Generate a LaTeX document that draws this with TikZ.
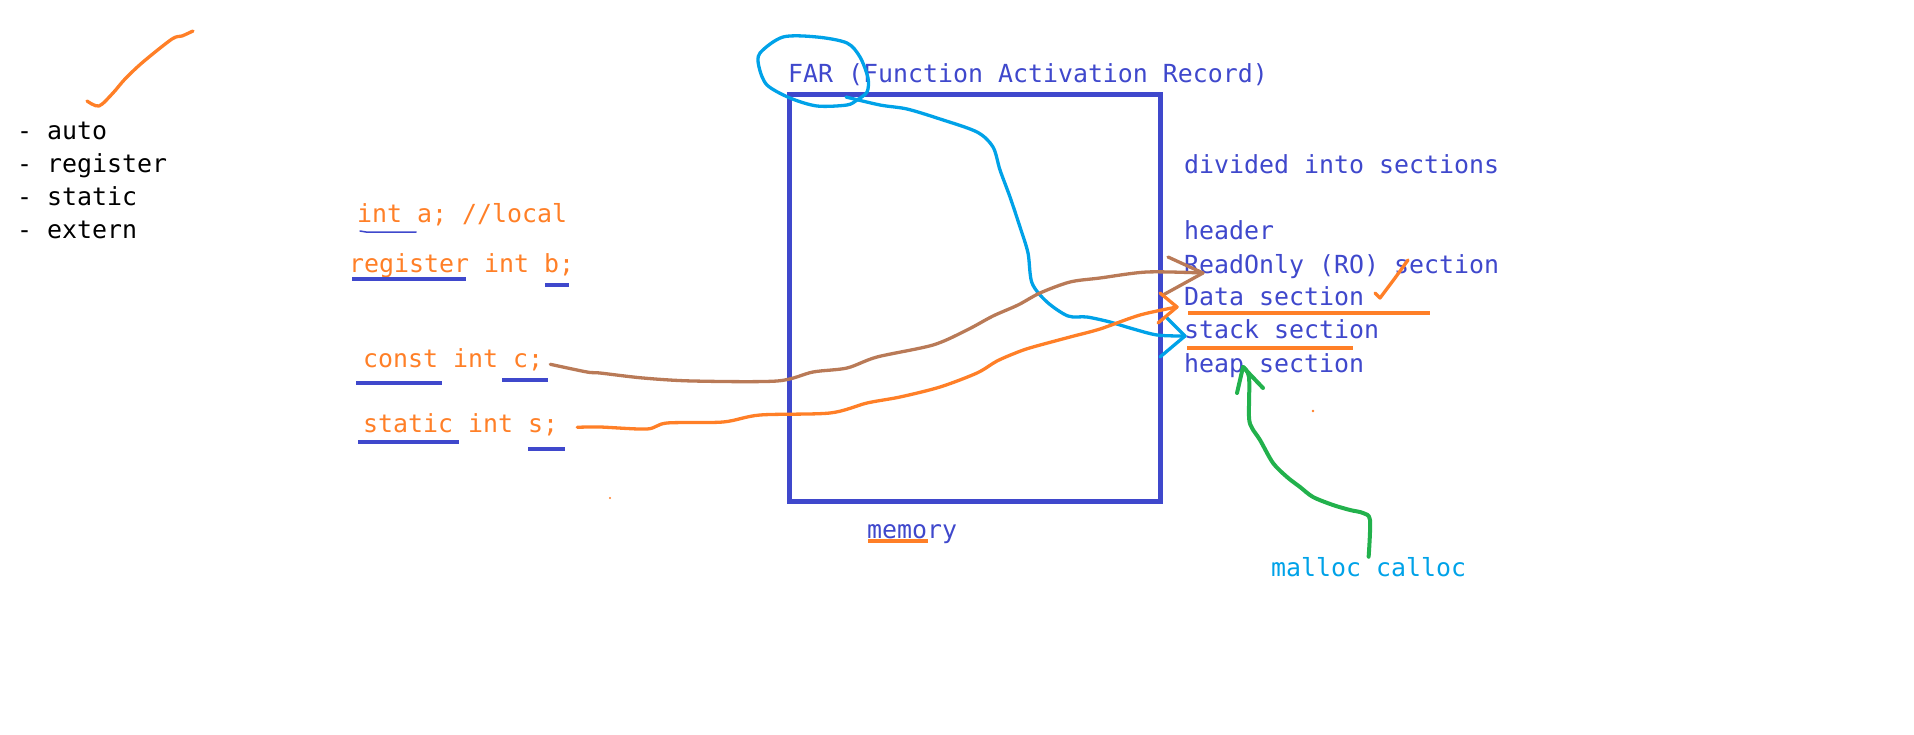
\documentclass[tikz,border=0pt]{standalone}
\usepackage{fontspec}
\setmonofont{DejaVu Sans Mono}
\definecolor{paintblue}{RGB}{63,72,204}
\definecolor{paintorange}{RGB}{255,127,39}
\definecolor{paintbrown}{RGB}{185,122,87}
\definecolor{paintcyan}{RGB}{0,162,232}
\definecolor{paintgreen}{RGB}{34,177,76}
\begin{document}
\begin{tikzpicture}[x=1pt,y=-1pt,line cap=round,line join=round]
\def\schrift{\ttfamily\fontsize{24.9}{30}\selectfont}
\tikzset{
	txt/.style={anchor=base west,inner sep=0pt,font=\schrift},
	stift/.style={line width=3.3pt},
	kurve/.style={stift,smooth,tension=0.5}
}
\useasboundingbox (0,0) rectangle (1914,734);
\foreach \w [count=\i] in {auto,register,static,extern}{
	\node[txt] (kw\i) at (17,106+33*\i) {- \w};
}
\draw[stift,paintorange] plot[kurve] coordinates {(87,101) (99,106) (113,93) (125,79) (143,62) (172,39) (182,36) (193,31)};
\node[txt,paintorange] (a) at (357,222) {int a; //local};
\node[txt,paintorange] (b) at (349,272) {register int b;};
\node[txt,paintorange] (c) at (363,367) {const int c;};
\node[txt,paintorange] (s) at (363,432) {static int s;};
\draw[paintblue,line width=1.5pt] (360,231) -- (366,232) -- (416,232);
\foreach \xa/\xb/\y in {352/466/279,545/569/285,356/442/383,502/548/380,358/459/442,528/565/449}{
	\draw[stift,paintblue,line cap=butt] (\xa,\y) -- (\xb,\y);
}
\draw[paintblue,line width=5pt,line join=miter] (789,94) rectangle (1160,501);
\node[txt,paintblue] (far) at (788,82) {FAR (Function Activation Record)};
\node[txt,paintblue] (mem) at (867,538) {memory};
\draw[stift,paintorange,line cap=butt] (868,541) -- (928,541);
\foreach \t/\y/\n in {divided into sections/173/div,header/239/hdr,ReadOnly (RO) section/273/ro,Data section/305/data,stack section/338/stk,heap section/372/heap}{
	\node[txt,paintblue] (\n) at (1184,\y) {\t};
}
\draw[stift,paintorange,line cap=butt] (1188,313) -- (1430,313);
\draw[stift,paintorange,line cap=butt] (1187,348) -- (1353,348);
\draw[stift,paintorange] (1375,293) -- (1380,298) -- (1395,278) -- (1408,260);
\node[txt,paintcyan] (mall) at (1271,576) {malloc calloc};
\coordinate (cOut) at ([shift={(7,5)}]c.east);
\coordinate (sOut) at ([shift={(19,3)}]s.east);
\coordinate (farRing) at (846,97);
\coordinate (roTip) at (1203,273);
\coordinate (dataTip) at (1177,307);
\coordinate (stkTip) at (1185,336);
\coordinate (heapTip) at (1243,367);
\draw[stift,paintcyan] plot[kurve,smooth cycle] coordinates {(760,53) (783,37) (817,37) (847,43) (860,57) (868,78) (867,92) (857,100) (847,105) (817,106) (790,98) (767,85) (759,67)};
\draw[stift,paintcyan] plot[kurve] coordinates {(farRing) (880,105) (907,109) (940,119) (977,132) (993,147) (1000,170) (1010,197) (1020,227) (1028,253) (1032,283) (1047,302) (1068,316) (1087,317) (1110,322) (1130,328) (1157,335) (stkTip)};
\draw[stift,paintcyan] (1167,318) -- (stkTip) -- (1160,357);
\draw[stift,paintbrown] plot[kurve] coordinates {(cOut) (587,372) (600,373) (643,378) (693,381) (777,381) (813,372) (847,368) (877,357) (933,345) (967,330) (993,316) (1018,305) (1040,293) (1070,282) (1100,278) (1147,272) (roTip)};
\draw[stift,paintbrown] (1168,257) -- (roTip) -- (1163,295);
\draw[stift,paintorange] plot[kurve] coordinates {(sOut) (600,427) (647,429) (667,423) (723,422) (760,415) (830,413) (867,403) (900,397) (940,387) (977,373) (997,361) (1018,352) (1033,347) (1070,337) (1100,329) (1140,315) (dataTip)};
\draw[stift,paintorange] (1160,293) -- (dataTip) -- (1158,323);
\draw[line width=4pt,paintgreen] plot[kurve] coordinates {(mall.north) (1370,520) (1363,513) (1350,510) (1333,505) (1313,497) (1300,487) (1287,477) (1273,463) (1260,440) (1252,428) (1249,417) (1249,377) (heapTip)};
\draw[line width=4pt,paintgreen] (1237,393) -- (heapTip) -- (1263,388);
\fill[paintorange] (1313,411) circle (1.3) (610,498) circle (1.1);
\end{tikzpicture}
\end{document}
